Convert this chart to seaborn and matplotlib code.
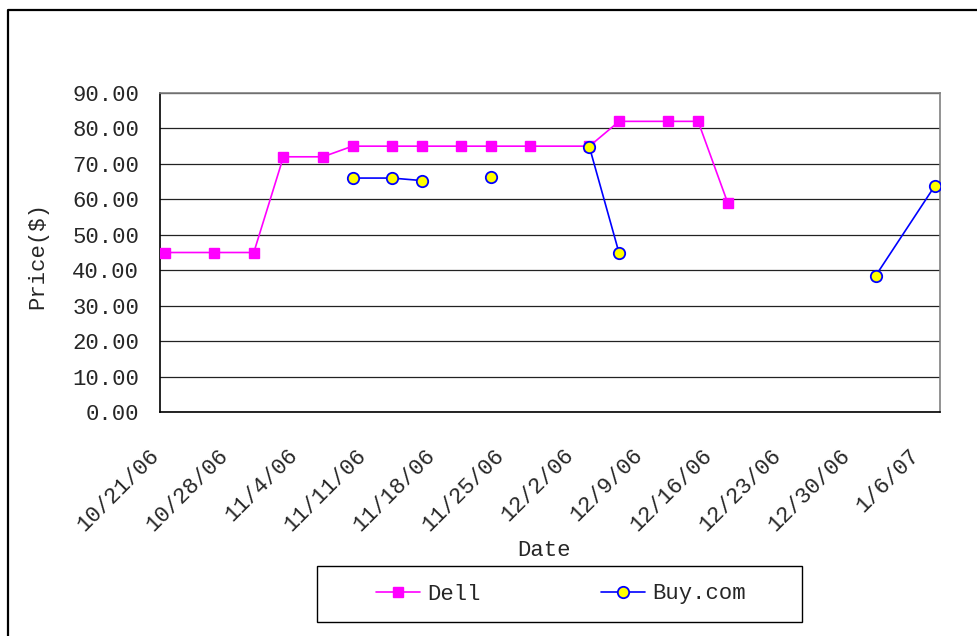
import numpy as np
import pandas as pd
import matplotlib
matplotlib.use("Agg")
import matplotlib.pyplot as plt
import matplotlib.transforms as mtransforms
from matplotlib.patches import Rectangle
from matplotlib.lines import Line2D
import seaborn as sns

# ---- data ----
dates = ["2006-10-21", "2006-10-26", "2006-10-30", "2006-11-02", "2006-11-06",
         "2006-11-09", "2006-11-13", "2006-11-16", "2006-11-20", "2006-11-23",
         "2006-11-27", "2006-12-03", "2006-12-06", "2006-12-11", "2006-12-14",
         "2006-12-17", "2007-01-01", "2007-01-07"]
dell = [45, 45, 45, 72, 72, 75, 75, 75, 75, 75, 75, 75, 82, 82, 82, 59,
        np.nan, np.nan]
buy_com = [np.nan, np.nan, np.nan, np.nan, np.nan, 66.0, 66.0, 65.3, np.nan,
           66.4, np.nan, 74.7, 44.8, np.nan, np.nan, np.nan, 38.5, 63.9]
x_tick_dates = ["2006-10-21", "2006-10-28", "2006-11-04", "2006-11-11",
                "2006-11-18", "2006-11-25", "2006-12-02", "2006-12-09",
                "2006-12-16", "2006-12-23", "2006-12-30", "2007-01-06"]
x_tick_labels = ["10/21/06", "10/28/06", "11/4/06", "11/11/06", "11/18/06",
                 "11/25/06", "12/2/06", "12/9/06", "12/16/06", "12/23/06",
                 "12/30/06", "1/6/07"]
y_ticks = [0, 10, 20, 30, 40, 50, 60, 70, 80, 90]
y_tick_labels = ["0.00", "10.00", "20.00", "30.00", "40.00", "50.00",
                 "60.00", "70.00", "80.00", "90.00"]
series_names = ["Dell", "Buy.com"]

df = pd.DataFrame({"Date": pd.to_datetime(dates), "Dell": dell, "Buy.com": buy_com})

sns.set_style("white")
plt.rcParams["font.family"] = ["Liberation Mono", "DejaVu Sans"]
FS = 16

fig = plt.figure(figsize=(9.78, 6.36), dpi=100)
ax = fig.add_axes([160 / 978, 1 - 412 / 636, 780 / 978, 319 / 636])

# points sit in the middle of each day (Excel date axis)
xpos = df["Date"] + pd.Timedelta(hours=12)

l1, = ax.plot(xpos, df["Dell"], color="#FF00FF", lw=1.2, marker="s", ms=7.8,
              mfc="#FF00FF", mec="#FF00FF", label=series_names[0], zorder=3)
l2, = ax.plot(xpos, df["Buy.com"], color="#0000FF", lw=1.2, marker="o", ms=8.2,
              mfc="#FFFF00", mec="#0000FF", mew=1.3, label=series_names[1], zorder=4)

ax.set_xlim(pd.Timestamp("2006-10-21"), pd.Timestamp("2007-01-08"))
ax.set_ylim(0, 90)
ax.set_yticks(y_ticks)
ax.set_yticklabels(y_tick_labels, fontsize=FS)
ax.set_xticks(pd.to_datetime(x_tick_dates))
ax.set_xticklabels(x_tick_labels, fontsize=FS)

ax.tick_params(axis="y", direction="in", length=6, width=1, color="black", pad=15)
ax.tick_params(axis="x", direction="in", length=6, width=1, color="black", pad=29)

shift = mtransforms.ScaledTranslation(-4 / 100, 0, fig.dpi_scale_trans)
for tick in ax.xaxis.get_major_ticks():
    lbl = tick.label1
    lbl.set(rotation=45, ha="right", va="center", rotation_mode="anchor")
    lbl.set_transform(lbl.get_transform() + shift)

ax.grid(axis="y", color="#222222", lw=0.9)
ax.grid(axis="x", visible=False)
ax.set_axisbelow(True)

for side in ["top", "right"]:
    ax.spines[side].set_color("#808080")
    ax.spines[side].set_linewidth(1.2)
for side in ["left", "bottom"]:
    ax.spines[side].set_color("black")
    ax.spines[side].set_linewidth(1.2)

ax.set_ylabel("Price($)", fontsize=FS)
ax.yaxis.set_label_coords(-0.1436, 0.49)
ax.set_xlabel("Date", fontsize=FS)
ax.xaxis.set_label_coords(0.492, -0.40)

# legend with a wide box, as in the original
W, H = 978, 636
fig.patches.append(Rectangle((317 / W, 1 - 622 / H), 485 / W, 56 / H,
                             transform=fig.transFigure, fill=False,
                             edgecolor="black", lw=1.0))
fig.legend(handles=[l1, l2], labels=series_names, loc="center",
           bbox_to_anchor=(561 / W, 1 - 594 / H), ncol=2, frameon=False,
           fontsize=FS, handlelength=2.0, handletextpad=0.32, columnspacing=5.4)

# outer chart border (extends beyond the right/bottom edge of the image)
fig.lines.append(Line2D([8 / W, 8 / W, 1.01], [-0.01, 1 - 10 / H, 1 - 10 / H],
                        transform=fig.transFigure, color="black", lw=1.6))

fig.savefig("out.png", dpi=100)
